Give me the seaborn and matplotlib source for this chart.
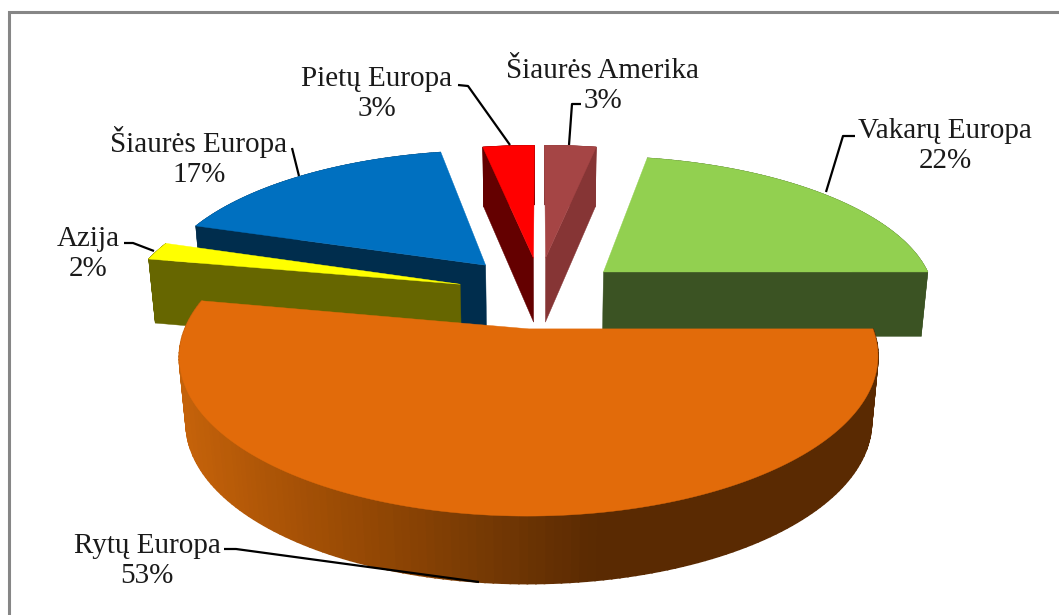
import numpy as np
import matplotlib
matplotlib.use("Agg")
import matplotlib.pyplot as plt
import seaborn as sns

# Reiksmes (procentai), pagal laikrodzio rodykle nuo virsaus
regionai = ["Šiaurės Amerika", "Vakarų Europa", "Rytų Europa", "Azija", "Šiaurės Europa", "Pietų Europa"]
procentai = [3, 22, 53, 2, 17, 3]

virsus = ["#A54545", "#92D050", "#E26B0A", "#FFFF00", "#0070C0", "#FF0000"]
sonas = ["#863535", "#3B5323", "#5A2A02", "#666600", "#002D4D", "#640000"]
gradientas = ["#C4620A", "#A85206", "#8E4504", "#733804", "#5A2A02", "#5A2A02"]

# uzrasu vietos ir linijos (pikseliais)
uzrasai = [(603, 86), (945, 146), (147, 561), (88, 254), (199, 157), (377, 94)]
linijos = [
    [(569, 145), (572, 104), (581, 104)],
    [(826, 192), (843, 136), (855, 136)],
    [(224, 549), (236, 549), (479, 582)],
    [(124, 243), (133, 243), (154, 251)],
    [(299, 176), (292, 148)],
    [(510, 145), (468, 86), (458, 85)],
]

# nedideli skilciu poslinkiai (pikseliais) ir mastelis
poslinkiai = [(-2, 0), (1, 2), (-3, 0), (0, 1), (-1, -1), (1, 0)]
masteliai = [1, 1, 0.99, 1, 1, 1]

# perspektyva
CX, CY = 540, 292
A, B, K = 333, 142, 0.167
ISKELIMAS = 0.25
M = 0.018


def projektuoti(u, v, z=0.0, mastelis=1.0, poslinkis=(0, 0)):
    """Disko taskas (u, v) ir gylis z -> pikseliai."""
    d = 1 + K * v + M * z
    x = CX + poslinkis[0] + mastelis * A * u / d
    y = CY + poslinkis[1] - B * v / d + z * (65 - 6 * v)
    return x, y


def piesti_skilti(ax, a1, a2, c_virsus, c_sonas, mastelis, poslinkis, oranzine=False):
    mid = (a1 + a2) / 2
    dx, dy = ISKELIMAS * np.cos(mid), ISKELIMAS * np.sin(mid)
    lankas = np.linspace(a1, a2, 160)

    def krastas(kampas, z=0.0):
        return projektuoti(dx + np.cos(kampas), dy + np.sin(kampas), z, mastelis, poslinkis)

    c0 = projektuoti(dx, dy, 0, mastelis, poslinkis)
    c1 = projektuoti(dx, dy, 1, mastelis, poslinkis)

    # isorine siena
    if oranzine:
        palete = sns.blend_palette(gradientas, 100)
    for i in range(len(lankas) - 1):
        a, b = lankas[i], lankas[i + 1]
        p = [krastas(a), krastas(b), krastas(b, 1), krastas(a, 1)]
        xs, ys = zip(*p)
        spalva = c_sonas
        plotis = 0.3
        if oranzine:
            j = np.clip((np.mean(xs) - 185) / (700 - 185), 0, 0.99)
            spalva = palete[int(j * 100)]
            plotis = 1.2
        ax.fill(xs, ys, color=spalva, lw=plotis, zorder=2)

    # radialines sienos: tik tos, kurios atsuktos i ziurova
    matomos = []
    if np.cos(a1) < -1e-6:
        matomos.append(a1)
    if np.cos(a2) > 1e-6:
        matomos.append(a2)
    for a in matomos:
        p0 = krastas(a)
        p1 = krastas(a, 1)
        ax.fill([c0[0], p0[0], p1[0], c1[0]], [c0[1], p0[1], p1[1], c1[1]],
                color=c_sonas, lw=0.3, zorder=2)

    # virsus
    xs, ys = krastas(lankas)
    ax.fill(np.r_[c0[0], xs], np.r_[c0[1], ys], color=c_virsus, lw=0.3, zorder=2)


def main():
    sns.set_theme(style="white")
    plt.rcParams["font.family"] = ["Liberation Serif", "DejaVu Serif"]

    fig, ax = plt.subplots(figsize=(10.59, 6.15), dpi=100)
    ax.set_position([0, 0, 1, 1])
    ax.set_xlim(0, 1059)
    ax.set_ylim(615, 0)
    ax.axis("off")

    # kampai pagal reiksmes
    dalys = np.array(procentai) / sum(procentai) * 2 * np.pi
    pabaigos = np.pi / 2 - np.cumsum(dalys)
    pradzios = pabaigos + dalys

    # piesiam nuo tolimiausios iki artimiausios
    tvarka = [5, 0, 4, 1, 3, 2]
    for i in tvarka:
        piesti_skilti(ax, pradzios[i], pabaigos[i], virsus[i], sonas[i],
                      masteliai[i], poslinkiai[i], oranzine=(i == 2))

    for i, r in enumerate(regionai):
        x, y = uzrasai[i]
        ax.text(x, y, f"{r}\n{procentai[i]}%", ha="center", va="center", fontsize=21,
                color="#1a1a1a", linespacing=1.23, zorder=5)
        lx, ly = zip(*linijos[i])
        ax.plot(lx, ly, color="black", lw=1.6, zorder=4, solid_capstyle="butt")

    # diagramos remelis (matosi tik kaire ir virsus)
    ax.plot([8.5, 8.5, 1059], [615, 11.5, 11.5], color="#868686", lw=2.2, zorder=1,
            solid_joinstyle="miter")

    fig.savefig("out.png", dpi=100)


if __name__ == "__main__":
    main()
